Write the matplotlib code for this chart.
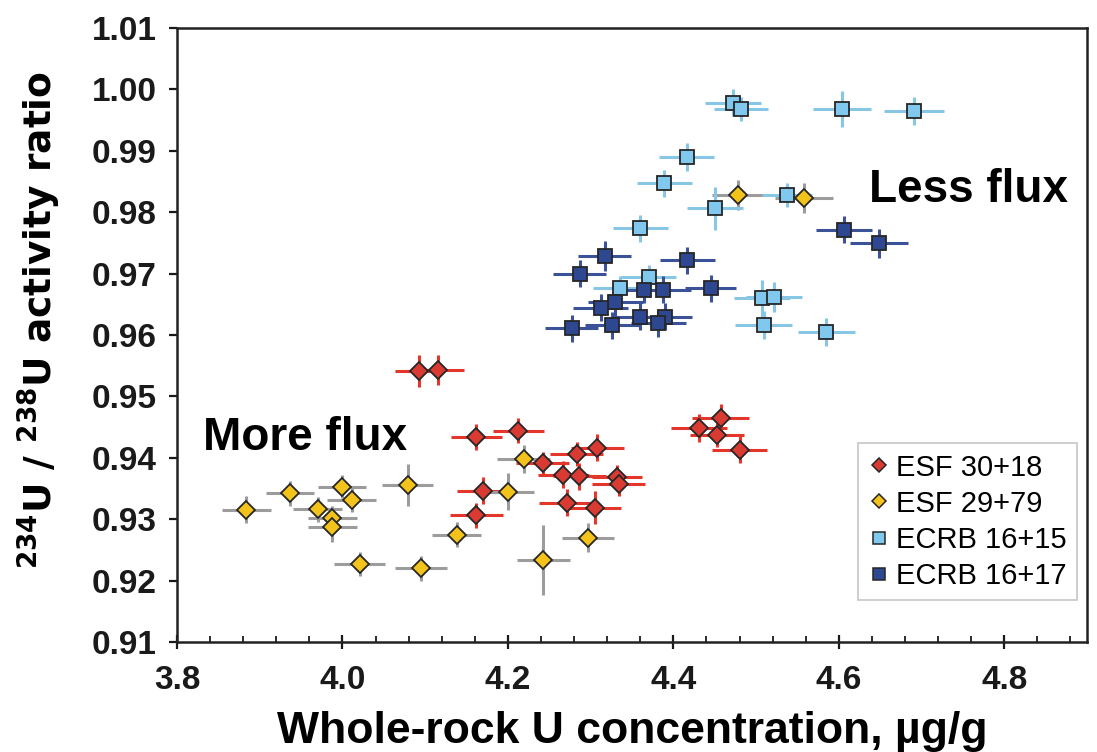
import matplotlib
matplotlib.use("Agg")
import matplotlib.pyplot as plt
from matplotlib.lines import Line2D
from matplotlib.ticker import MultipleLocator

# ESF 30+18 (red diamonds)
red_x = [4.093, 4.116, 4.162, 4.2125, 4.242, 4.283, 4.308, 4.267, 4.286, 4.332,
         4.334, 4.170, 4.271, 4.305, 4.162, 4.431, 4.457, 4.453, 4.480]
red_y = [0.9542, 0.9543, 0.9434, 0.9444, 0.9392, 0.9406, 0.9416, 0.9372, 0.9370, 0.9369,
         0.9358, 0.9346, 0.9327, 0.9319, 0.9306, 0.9448, 0.9464, 0.9437, 0.9413]
red_xerr = [0.030, 0.031, 0.031, 0.031, 0.032, 0.032, 0.032, 0.031, 0.032, 0.030,
            0.032, 0.031, 0.033, 0.032, 0.032, 0.034, 0.034, 0.033, 0.033]
red_yerr = [0.0026, 0.0024, 0.0021, 0.0020, 0.0018, 0.0020, 0.0022, 0.0022, 0.0022, 0.0020,
            0.0020, 0.0022, 0.0022, 0.0027, 0.0020, 0.0023, 0.0023, 0.0020, 0.0022]

# ESF 29+79 (yellow diamonds)
yel_x = [4.219, 4.079, 3.937, 3.999, 4.011, 3.884, 3.970, 4.200, 3.988, 3.988,
         4.138, 4.297, 4.021, 4.095, 4.243, 4.478, 4.558]
yel_y = [0.9398, 0.9356, 0.9342, 0.9353, 0.9331, 0.9315, 0.9316, 0.9345, 0.9302, 0.9288,
         0.9275, 0.9270, 0.9227, 0.9220, 0.9234, 0.9828, 0.9823]
yel_xerr = [0.032, 0.031, 0.029, 0.029, 0.030, 0.030, 0.030, 0.031, 0.030, 0.030,
            0.030, 0.031, 0.031, 0.031, 0.032, 0.031, 0.035]
yel_yerr = [0.0022, 0.0034, 0.0020, 0.0019, 0.0020, 0.0022, 0.0020, 0.0030, 0.0020, 0.0025,
            0.0020, 0.0023, 0.0020, 0.0020, 0.0057, 0.0024, 0.0024]

# ECRB 16+15 (light blue squares)
lb_x = [4.472, 4.482, 4.604, 4.691, 4.416, 4.389, 4.537, 4.450, 4.360, 4.370,
        4.336, 4.507, 4.522, 4.509, 4.585]
lb_y = [0.9978, 0.9968, 0.9968, 0.9965, 0.9890, 0.9847, 0.9828, 0.9806, 0.9774, 0.9694,
        0.9676, 0.9660, 0.9662, 0.9616, 0.9605]
lb_xerr = [0.034, 0.033, 0.035, 0.036, 0.033, 0.033, 0.030, 0.034, 0.033, 0.033,
           0.033, 0.034, 0.034, 0.034, 0.034]
lb_yerr = [0.0022, 0.0020, 0.0030, 0.0023, 0.0023, 0.0022, 0.0020, 0.0035, 0.0022, 0.0020,
           0.0020, 0.0030, 0.0024, 0.0023, 0.0023]

# ECRB 16+17 (dark blue squares)
db_x = [4.606, 4.649, 4.317, 4.417, 4.287, 4.364, 4.388, 4.445, 4.330, 4.312,
        4.360, 4.390, 4.382, 4.326, 4.277]
db_y = [0.9771, 0.9749, 0.9729, 0.9722, 0.9700, 0.9674, 0.9674, 0.9676, 0.9653, 0.9644,
        0.9630, 0.9630, 0.9619, 0.9616, 0.9611]
db_xerr = [0.034, 0.035, 0.032, 0.033, 0.032, 0.033, 0.033, 0.031, 0.033, 0.033,
           0.033, 0.033, 0.033, 0.033, 0.032]
db_yerr = [0.0022, 0.0024, 0.0024, 0.0022, 0.0022, 0.0022, 0.0022, 0.0022, 0.0022, 0.0022,
           0.0022, 0.0022, 0.0022, 0.0022, 0.0022]

series = [
    ("ESF 30+18", red_x, red_y, red_xerr, red_yerr, "D", "#d93b33", "#e5362c"),
    ("ESF 29+79", yel_x, yel_y, yel_xerr, yel_yerr, "D", "#f3c31c", "#9c9c9c"),
    ("ECRB 16+15", lb_x, lb_y, lb_xerr, lb_yerr, "s", "#80c8ee", "#88c6e6"),
    ("ECRB 16+17", db_x, db_y, db_xerr, db_yerr, "s", "#2d4890", "#3c5298"),
]

plt.rcParams["font.family"] = ["Liberation Sans", "DejaVu Sans"]
plt.rcParams["mathtext.fontset"] = "dejavusans"
plt.rcParams["mathtext.default"] = "bf"

fig = plt.figure(figsize=(10.97, 7.52), dpi=100)
ax = fig.add_axes([0.1613, 0.1463, 0.8296, 0.8165])

EDGE = "#262626"
handles = []
# error bars first so every marker sits on top
for name, xs, ys, xe, ye, mk, fc, ec in series:
    ax.errorbar(xs, ys, xerr=xe, yerr=ye, fmt="none", ecolor=ec, elinewidth=2.2,
                capsize=0, zorder=2)
for name, xs, ys, xe, ye, mk, fc, ec in series:
    ms = 9.2 if mk == "D" else 10.2
    ax.plot(xs, ys, linestyle="none", marker=mk, ms=ms, mfc=fc, mec=EDGE, mew=1.3, zorder=3)
    handles.append(Line2D([], [], linestyle="none", marker=mk, ms=ms * 0.82, mfc=fc,
                          mec=EDGE, mew=1.1, label=name))

ax.set_xlim(3.8, 4.9)
ax.set_ylim(0.91, 1.01)
ax.xaxis.set_major_locator(MultipleLocator(0.2))
ax.xaxis.set_minor_locator(MultipleLocator(0.04))
ax.yaxis.set_major_locator(MultipleLocator(0.01))
ax.xaxis.set_major_formatter(plt.FormatStrFormatter("%.1f"))
ax.yaxis.set_major_formatter(plt.FormatStrFormatter("%.2f"))

ax.tick_params(axis="x", which="major", direction="inout", length=10, width=1.6,
               pad=11.5, labelsize=24, colors="#1a1a1a")
ax.tick_params(axis="x", which="minor", direction="in", length=4, width=1.3, colors="#1a1a1a")
ax.tick_params(axis="y", which="major", direction="out", length=6, width=1.6,
               pad=8.5, labelsize=24, colors="#1a1a1a")
for lab in ax.get_xticklabels() + ax.get_yticklabels():
    lab.set_fontweight("bold")

for side in ["left", "bottom", "top", "right"]:
    ax.spines[side].set_linewidth(1.8)
    ax.spines[side].set_color("#222222")

ax.set_xlabel("Whole-rock U concentration, µg/g", fontsize=32, fontweight="bold")
ax.xaxis.set_label_coords(0.5, -0.113)
ax.set_ylabel("$^{234}$U / $^{238}$U activity ratio", fontsize=27, fontweight="bold",
              family="DejaVu Sans")
ax.yaxis.set_label_coords(-0.125, 0.524)

ax.text(3.8315, 0.9413, "More flux", fontsize=33, fontweight="bold", ha="left", va="baseline")
ax.text(4.637, 0.9817, "Less flux", fontsize=33, fontweight="bold", ha="left", va="baseline")

leg = ax.legend(handles=handles, loc="lower right", bbox_to_anchor=(0.989, 0.068),
                borderaxespad=0, fontsize=21, frameon=True, fancybox=False,
                handlelength=0.7, handletextpad=0.25, borderpad=0.35, labelspacing=0.28)
leg.get_frame().set_edgecolor("#b8b8b8")
leg.get_frame().set_linewidth(1.2)

fig.savefig("out.png", dpi=100)
